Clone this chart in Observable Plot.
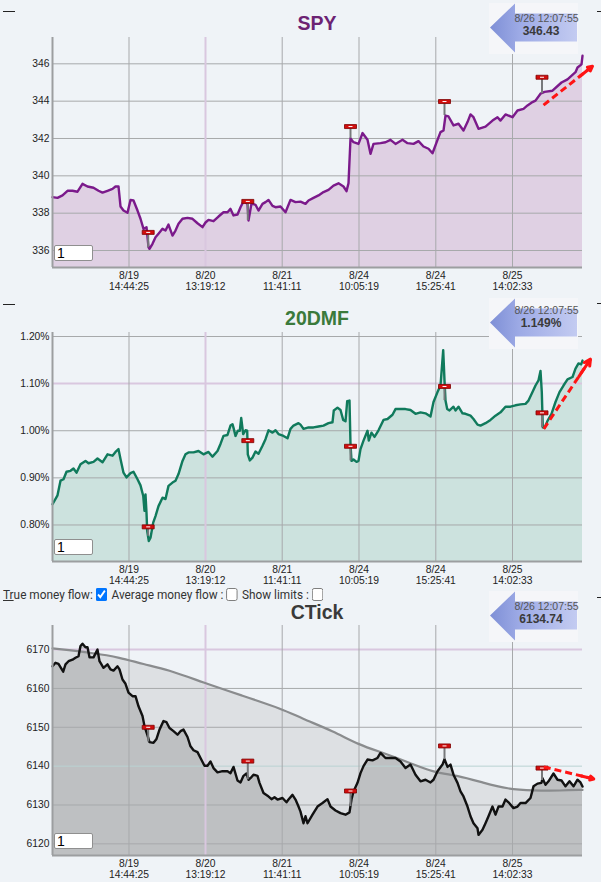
<!DOCTYPE html>
<html><head><meta charset="utf-8">
<script src="https://cdn.jsdelivr.net/npm/d3@7"></script>
<script src="https://cdn.jsdelivr.net/npm/@observablehq/plot@0.6"></script>
<style>
body{margin:0;background:#eff3f7;width:601px;height:882px;position:relative;overflow:hidden;font-family:"Liberation Sans",Arial,sans-serif}
.title{position:absolute;left:52px;width:530px;text-align:center;font-weight:bold;font-size:19.5px;line-height:24px;font-family:"Liberation Sans",Arial,sans-serif}
.panel{position:absolute;left:0}
.callout{position:absolute;left:489px}
.inbox{position:absolute;left:54px;width:39px;height:16px;box-sizing:border-box;border:1px solid #8f8f8f;border-radius:2px;background:#fff;font:14px "Liberation Sans",Arial,sans-serif;padding:0 2px;line-height:14px;color:#000}
.dash{position:absolute;height:1px;background:#222}
#ctrl{position:absolute;left:3px;top:585px;font-family:Roboto,"Liberation Sans",sans-serif;font-size:13.5px;color:#333;white-space:nowrap;line-height:18px;transform:scale(0.875,1);transform-origin:0 50%}
#ctrl input{margin:0 2px 0 3px;vertical-align:-2px;width:13px;height:13px}
</style></head>
<body>
<script>
// ---------- shared x-axis (session position) ----------
const tickPos = [76.5, 153, 229.7, 306.5, 383.3, 460];
const tickLabels = ["8/19\n14:44:25", "8/20\n13:19:12", "8/21\n11:41:11", "8/24\n10:05:19", "8/24\n15:25:41", "8/25\n14:02:33"];
const xDomain = [0, 530];
const markerTimes = [95.7, 195.3, 298, 392, 489.5];
const lastStamp = "8/26 12:07:55";

// ---------- SPY ----------
const spySeries = [[0,338.86],[5,338.82],[10,338.95],[15,339.2],[20,339.2],[25,339.15],[30,339.57],[35,339.43],[41,339.36],[46,339.2],[50,339.1],[55,339.2],[60,339.3],[63,339.43],[66,339.43],[68,338.36],[71,338.14],[75,338.02],[78,338.71],[81,338.68],[85,338.14],[88,337.7],[91,337.16],[94,337.25],[96,336.18],[97,336.09],[100,336.36],[103,336.71],[106,336.9],[110,337.16],[113,337.07],[116,337.39],[120,336.8],[123,337.07],[126,337.43],[130,337.7],[135,337.75],[140,337.7],[145,337.46],[150,337.25],[153,337.5],[156,337.64],[161,337.57],[166,337.82],[171,338.05],[175,338.05],[178,338.23],[181,337.88],[185,337.93],[188,338.32],[191,338.63],[195,338.5],[196,337.61],[199,338.52],[203,338.45],[206,338.14],[210,338.5],[213,338.59],[216,338.71],[220,338.39],[223,338.32],[228,338.36],[233,338.05],[238,338.71],[243,338.59],[248,338.62],[253,338.5],[256,338.68],[261,338.82],[266,338.95],[271,339.13],[276,339.25],[281,339.48],[286,339.6],[291,339.43],[294,339.18],[296,339.6],[298,342.0],[301,341.8],[306,341.71],[310,342.29],[315,341.93],[318,341.18],[321,341.71],[328,341.75],[333,341.8],[338,341.93],[343,341.71],[350,341.93],[355,341.75],[361,341.71],[366,341.86],[371,341.57],[376,341.45],[380,341.21],[385,341.93],[388,342.34],[391,342.43],[393,343.23],[396,343.18],[401,342.7],[406,342.79],[411,342.43],[415,342.88],[418,343.29],[421,343.14],[426,342.52],[433,342.64],[440,342.96],[445,343.14],[448,342.96],[453,343.29],[460,343.14],[465,343.5],[471,343.59],[475,343.77],[480,343.95],[483,344.03],[488,344.4],[492,344.5],[500,344.56],[509,345.0],[515,345.17],[523,345.55],[525,345.8],[529,345.97],[530,346.43]];
const spyTicks = [336, 338, 340, 342, 344, 346];
const spyMarkers = [336.97, 338.63, 342.64, 343.98, 345.28];
const spyMarkerBase = [336.15, 337.61, 342.0, 343.23, 344.4];
const spyTrend = [[491, 343.79], [540, 345.87]];

// ---------- 20DMF (percent) ----------
const dmfSeries = [[0,0.844],[5,0.863],[8,0.894],[11,0.897],[14,0.913],[18,0.915],[21,0.920],[24,0.911],[28,0.929],[33,0.936],[36,0.931],[41,0.934],[45,0.941],[50,0.933],[55,0.950],[60,0.947],[63,0.955],[66,0.961],[68,0.940],[71,0.911],[74,0.901],[78,0.910],[81,0.913],[85,0.897],[88,0.884],[90.7,0.862],[92,0.830],[93,0.865],[94,0.826],[94.7,0.787],[96.3,0.766],[98,0.773],[100.7,0.805],[103,0.819],[106,0.840],[110,0.858],[113,0.855],[116,0.883],[120,0.890],[123,0.894],[126,0.908],[130,0.936],[133,0.950],[136,0.954],[141,0.954],[146,0.957],[151,0.950],[156,0.955],[160,0.945],[165,0.957],[168,0.972],[171,0.989],[175,0.991],[178,1.011],[180,1.014],[181.3,1.004],[183,0.989],[185.3,1.000],[187.3,1.000],[188.7,1.027],[190.7,0.993],[193,1.001],[194.7,1.000],[195.3,0.950],[197.3,0.937],[200,0.943],[203,0.956],[206,0.951],[210,0.968],[213,0.982],[216,1.001],[220,0.996],[223,1.001],[226,0.993],[231,0.989],[235,0.984],[238,1.004],[241,1.011],[246,1.016],[248,1.013],[251,1.004],[256,1.007],[261,1.007],[266,1.009],[271,1.011],[276,1.016],[280,1.018],[281.3,1.043],[285,1.049],[288,1.044],[290.7,1.023],[293,1.020],[294.7,1.063],[297,1.064],[298,0.971],[299,0.936],[301,0.939],[304,0.934],[306,0.936],[308,0.961],[311,0.979],[315,1.000],[316.3,0.979],[319,0.996],[322,0.987],[326,1.001],[331,1.023],[335,1.025],[340,1.034],[343,1.046],[348,1.046],[353,1.046],[358,1.044],[363,1.036],[368,1.039],[373,1.037],[378,1.030],[381,1.061],[385,1.082],[388,1.096],[389.7,1.143],[390.7,1.171],[392,1.107],[393,1.064],[394.7,1.046],[397,1.043],[401,1.051],[403,1.043],[406,1.051],[410,1.037],[413,1.036],[418,1.032],[421,1.025],[425,1.013],[428,1.011],[433,1.016],[438,1.023],[443,1.032],[448,1.039],[453,1.051],[458,1.051],[463,1.054],[468,1.056],[473,1.057],[476,1.064],[480,1.082],[483,1.096],[486,1.107],[488,1.127],[489.3,1.082],[490.3,1.007],[492,1.006],[495,1.021],[499,1.036],[503,1.061],[507,1.082],[511,1.096],[515,1.109],[520,1.114],[523,1.132],[526,1.143],[528.7,1.141],[530,1.149]];
const dmfTicks = [0.80, 0.90, 1.00, 1.10, 1.20];
const dmfMarkers = [0.796, 0.979, 0.967, 1.094, 1.038];
const dmfMarkerBase = [0.776, 0.979, 0.936, 1.064, 1.007];
const dmfTrend = [[491.3, 1.004], [538, 1.152]];

// ---------- CTick ----------
const ctickSeries = [[0,6165.7],[3,6166.6],[6,6166.3],[10.7,6164.3],[13,6166.2],[16,6167.0],[20,6167.4],[23,6167.9],[26,6168.3],[28,6170.9],[30,6171.5],[33,6170.6],[35,6170.6],[37,6168.0],[41,6168.0],[45,6170.0],[47,6167.0],[51,6165.3],[55,6166.2],[58,6164.9],[61,6164.6],[65,6165.7],[67,6164.9],[70,6162.3],[73,6161.2],[76,6158.9],[80,6158.0],[83,6158.0],[86,6155.4],[90,6152.9],[92,6150.3],[95,6147.9],[97,6146.2],[101,6146.0],[104,6147.0],[107,6149.4],[111,6151.6],[114,6151.3],[117,6149.8],[121,6149.0],[125,6148.1],[128,6149.0],[131,6149.4],[135,6147.5],[138,6145.1],[141,6144.1],[145,6143.6],[148,6142.1],[152,6140.1],[155,6140.1],[158,6141.2],[161,6139.5],[165,6138.4],[170,6138.7],[175,6138.7],[178,6138.2],[181,6139.8],[185,6136.3],[188,6135.8],[191,6137.5],[194,6138.1],[196,6136.5],[199,6137.2],[201,6137.8],[205,6137.5],[207,6135.7],[211,6133.1],[215,6132.4],[219,6131.5],[222,6132.0],[225,6131.4],[230,6131.8],[234,6130.7],[236,6131.4],[240,6132.6],[243,6131.4],[246,6129.6],[248,6128.3],[251,6125.3],[253,6127.1],[255,6125.3],[260,6127.5],[265,6129.6],[270,6130.5],[275,6131.5],[278,6129.6],[283,6128.6],[288,6127.9],[293,6127.5],[297,6128.1],[299,6131.4],[301,6133.5],[305,6135.7],[308,6138.2],[311,6140.0],[315,6141.7],[320,6141.5],[325,6142.1],[328,6143.4],[333,6142.1],[338,6142.1],[343,6142.1],[348,6141.2],[353,6139.5],[358,6140.4],[363,6137.8],[368,6136.1],[373,6136.5],[378,6135.8],[381,6136.5],[385,6138.7],[390,6140.4],[392,6141.8],[395,6139.8],[398,6140.4],[401,6137.8],[405,6135.7],[408,6133.5],[411,6132.2],[415,6129.6],[418,6127.1],[421,6125.3],[425,6124.0],[426,6122.3],[430,6123.6],[433,6125.3],[436,6127.1],[440,6129.6],[443,6127.5],[446,6129.6],[450,6129.6],[453,6131.4],[456,6130.7],[461,6129.2],[465,6129.6],[468,6130.5],[473,6130.5],[478,6131.8],[481,6134.8],[485,6135.5],[489,6135.7],[490,6136.9],[493,6135.2],[496,6136.1],[501,6138.1],[505,6136.5],[509,6136.3],[513,6134.8],[517,6136.1],[521,6134.8],[525,6136.5],[528,6135.8],[530,6134.74]];
const ctickAverage = [[0,6170.3],[41,6169.1],[67,6168.0],[91,6166.2],[115,6164.9],[151,6161.5],[188,6158.3],[231,6154.6],[248,6152.4],[281,6149.0],[306,6145.5],[331,6143.4],[358,6140.8],[381,6138.4],[405,6137.6],[431,6135.7],[455,6134.1],[481,6133.7],[508,6133.7],[530,6133.9]];
const ctickTicks = [6120, 6130, 6140, 6150, 6160, 6170];
const ctickMarkers = [6150.0, 6141.3, 6133.6, 6145.2, 6139.5];
const ctickMarkerBase = [6146.2, 6136.5, 6129.6, 6141.7, 6136.3];
const ctickTrend = [[491.3, 6139.8], [541.3, 6136.7]];

// ---------- helpers ----------
const GRID = "#a7a9ab", LAV = "#d9c7df", FRAME = "#9c9ea0";
const labelOf = new Map(tickPos.map((p, i) => [p, tickLabels[i]]));
const markSym = {draw(c){ c.moveTo(-6,-2); c.lineTo(6,-2); c.lineTo(6,2); c.lineTo(-6,2); c.closePath(); }};
const dashSym = {draw(c){ c.moveTo(-2,-0.5); c.lineTo(2,-0.5); c.lineTo(2,0.5); c.lineTo(-2,0.5); c.closePath(); }};

function panel(cfg) {
  const ymin = cfg.yDomain[0];
  const data = cfg.series.map(([t, v]) => ({t, v}));
  const mk = markerTimes.map((t, i) => ({t, v: cfg.markers[i], b: cfg.base[i]}));
  const tr = {x1: cfg.trend[0][0], y1: cfg.trend[0][1], x2: cfg.trend[1][0], y2: cfg.trend[1][1]};
  const head = {x1: tr.x2 - 0.25 * (tr.x2 - tr.x1), y1: tr.y2 - 0.25 * (tr.y2 - tr.y1), x2: tr.x2, y2: tr.y2};
  const marks = [];
  if (cfg.avg) marks.push(Plot.areaY(cfg.avg.map(([t, v]) => ({t, v})), {x: "t", y1: ymin, y2: "v", fill: "#dde0e3", curve: "basis"}));
  marks.push(Plot.areaY(data, {x: "t", y1: ymin, y2: "v", fill: cfg.fill}));
  marks.push(Plot.ruleY(cfg.yTicks.filter(d => d !== cfg.lavY && d !== cfg.tealY), {stroke: GRID}));
  if (cfg.lavY != null) marks.push(Plot.ruleY([cfg.lavY], {stroke: LAV, strokeWidth: 2}));
  if (cfg.tealY != null) marks.push(Plot.ruleY([cfg.tealY], {stroke: "#b9d3d3"}));
  marks.push(Plot.ruleX(tickPos.filter((d, i) => i !== 1), {stroke: GRID}));
  marks.push(Plot.ruleX([tickPos[1]], {stroke: LAV, strokeWidth: 2}));
  if (cfg.avg) marks.push(Plot.line(cfg.avg.map(([t, v]) => ({t, v})), {x: "t", y: "v", stroke: "#8a8c8e", strokeWidth: 2.2, curve: "basis"}));
  marks.push(Plot.line(data, {x: "t", y: "v", stroke: cfg.stroke, strokeWidth: 2.4}));
  marks.push(Plot.ruleX(mk, {x: "t", y1: "b", y2: "v", stroke: "#77797b", strokeWidth: 2}));
  marks.push(Plot.dot(mk, {x: "t", y: "v", symbol: markSym, fill: "#d20d0d", stroke: "#7d0000", strokeWidth: 0.8}));
  marks.push(Plot.dot(mk, {x: "t", y: "v", symbol: dashSym, fill: "#fff"}));
  marks.push(Plot.link([tr], {x1: "x1", y1: "y1", x2: "x2", y2: "y2", stroke: "#ff1414", strokeWidth: 3, strokeDasharray: "7,4"}));
  marks.push(Plot.arrow([head], {x1: "x1", y1: "y1", x2: "x2", y2: "y2", stroke: "#ff1414", strokeWidth: 3, headLength: 11, headAngle: 55}));
  marks.push(Plot.ruleX([0], {stroke: FRAME, strokeWidth: 2}));
  marks.push(Plot.ruleY([ymin], {stroke: FRAME, strokeWidth: 2}));
  marks.push(Plot.axisY(cfg.yTicks, {tickSize: 0, tickPadding: 3, tickFormat: cfg.yFmt, fill: "#222"}));
  marks.push(Plot.axisX(tickPos, {tickSize: 0, tickPadding: 4, tickFormat: d => labelOf.get(d), fill: "#222", lineHeight: 1.05}));
  const svg = Plot.plot({
    width: 601, height: cfg.mt + cfg.h + cfg.mb,
    marginLeft: 52, marginRight: 19, marginTop: cfg.mt, marginBottom: cfg.mb,
    x: {domain: xDomain}, y: {domain: cfg.yDomain},
    style: {background: "transparent", fontFamily: "'Liberation Sans', Arial, sans-serif", fontSize: "10.3px", overflow: "visible"},
    marks
  });
  svg.classList.add("panel");
  svg.style.top = cfg.top + "px";
  document.body.appendChild(svg);

  const tt = document.createElement("div");
  tt.className = "title"; tt.textContent = cfg.title; tt.style.top = cfg.titleTop + "px"; tt.style.color = cfg.titleColor;
  document.body.appendChild(tt);

  const inp = document.createElement("div");
  inp.className = "inbox"; inp.textContent = "1"; inp.style.top = cfg.inTop + "px";
  document.body.appendChild(inp);

  const last = cfg.series[cfg.series.length - 1][1];
  const co = document.createElement("div");
  co.className = "callout"; co.style.top = cfg.coTop + "px";
  co.innerHTML = `<svg width="92" height="52">
    <defs><linearGradient id="g${cfg.id}" x1="0" x2="1" y1="0" y2="0">
      <stop offset="0" stop-color="#7e8fd6"/><stop offset="0.35" stop-color="#9eabe6"/><stop offset="1" stop-color="#c3cbf1"/></linearGradient></defs>
    <rect x="0" y="0" width="89" height="51" fill="#f5f6f9"/>
    <path d="M1,24.5 L26,0.5 L26,10.5 L88,10.5 L88,38.5 L26,38.5 L26,49.5 Z" fill="url(#g${cfg.id})"/>
    <text x="57.5" y="${cfg.coTextY}" text-anchor="middle" font-family="'Liberation Sans',Arial,sans-serif" font-size="10.5" fill="#555">${lastStamp}</text>
    <text x="52" y="${cfg.coTextY + 13}" text-anchor="middle" font-family="'Liberation Sans',Arial,sans-serif" font-size="12" font-weight="bold" fill="#3a3a3a">${cfg.fmtLast(last)}</text>
  </svg>`;
  document.body.appendChild(co);
}

panel({id: 1, title: "SPY", titleColor: "#6c2273", titleTop: 11, top: 30, mt: 7, h: 230, mb: 30,
  series: spySeries, yDomain: [335.09, 347.41], yTicks: spyTicks, yFmt: d => String(d),
  fill: "#dfd0e3", stroke: "#7b1a8b", markers: spyMarkers, base: spyMarkerBase, trend: spyTrend,
  inTop: 245, coTop: 3, coTextY: 19, fmtLast: v => v.toFixed(2)});

panel({id: 2, title: "20DMF", titleColor: "#3b7a3b", titleTop: 306, top: 325, mt: 7, h: 229, mb: 30,
  series: dmfSeries, yDomain: [0.7225, 1.2085], yTicks: dmfTicks, yFmt: d => d.toFixed(2) + "%", lavY: 1.10,
  fill: "#cce2de", stroke: "#107a5c", markers: dmfMarkers, base: dmfMarkerBase, trend: dmfTrend,
  inTop: 539, coTop: 298, coTextY: 16, fmtLast: v => v.toFixed(3) + "%"});

panel({id: 3, title: "CTick", titleColor: "#3a3a3a", titleTop: 600, top: 618, mt: 7, h: 230, mb: 27,
  series: ctickSeries, avg: ctickAverage, yDomain: [6117.0, 6176.2], yTicks: ctickTicks, yFmt: d => String(d), lavY: 6170, tealY: 6140,
  fill: "#bec0c2", stroke: "#111", markers: ctickMarkers, base: ctickMarkerBase, trend: ctickTrend,
  inTop: 833, coTop: 591, coTextY: 19, fmtLast: v => v.toFixed(2)});

// decorations
[[3, 11, 12], [3, 304, 12]].forEach(([x, y, w]) => { const d = document.createElement("div"); d.className = "dash"; d.style.left = x + "px"; d.style.top = y + "px"; d.style.width = w + "px"; document.body.appendChild(d); });
[11, 303, 597].forEach(y => { const d = document.createElement("div"); d.className = "dash"; d.style.left = "597px"; d.style.top = y + "px"; d.style.width = "4px"; document.body.appendChild(d); });

const ctrl = document.createElement("div");
ctrl.id = "ctrl";
ctrl.innerHTML = '<span style="text-decoration:underline">Tr</span>ue money flow:<input type="checkbox" checked> Average money flow :<input type="checkbox"> Show limits :<input type="checkbox">';
document.body.appendChild(ctrl);
</script>
</body></html>
